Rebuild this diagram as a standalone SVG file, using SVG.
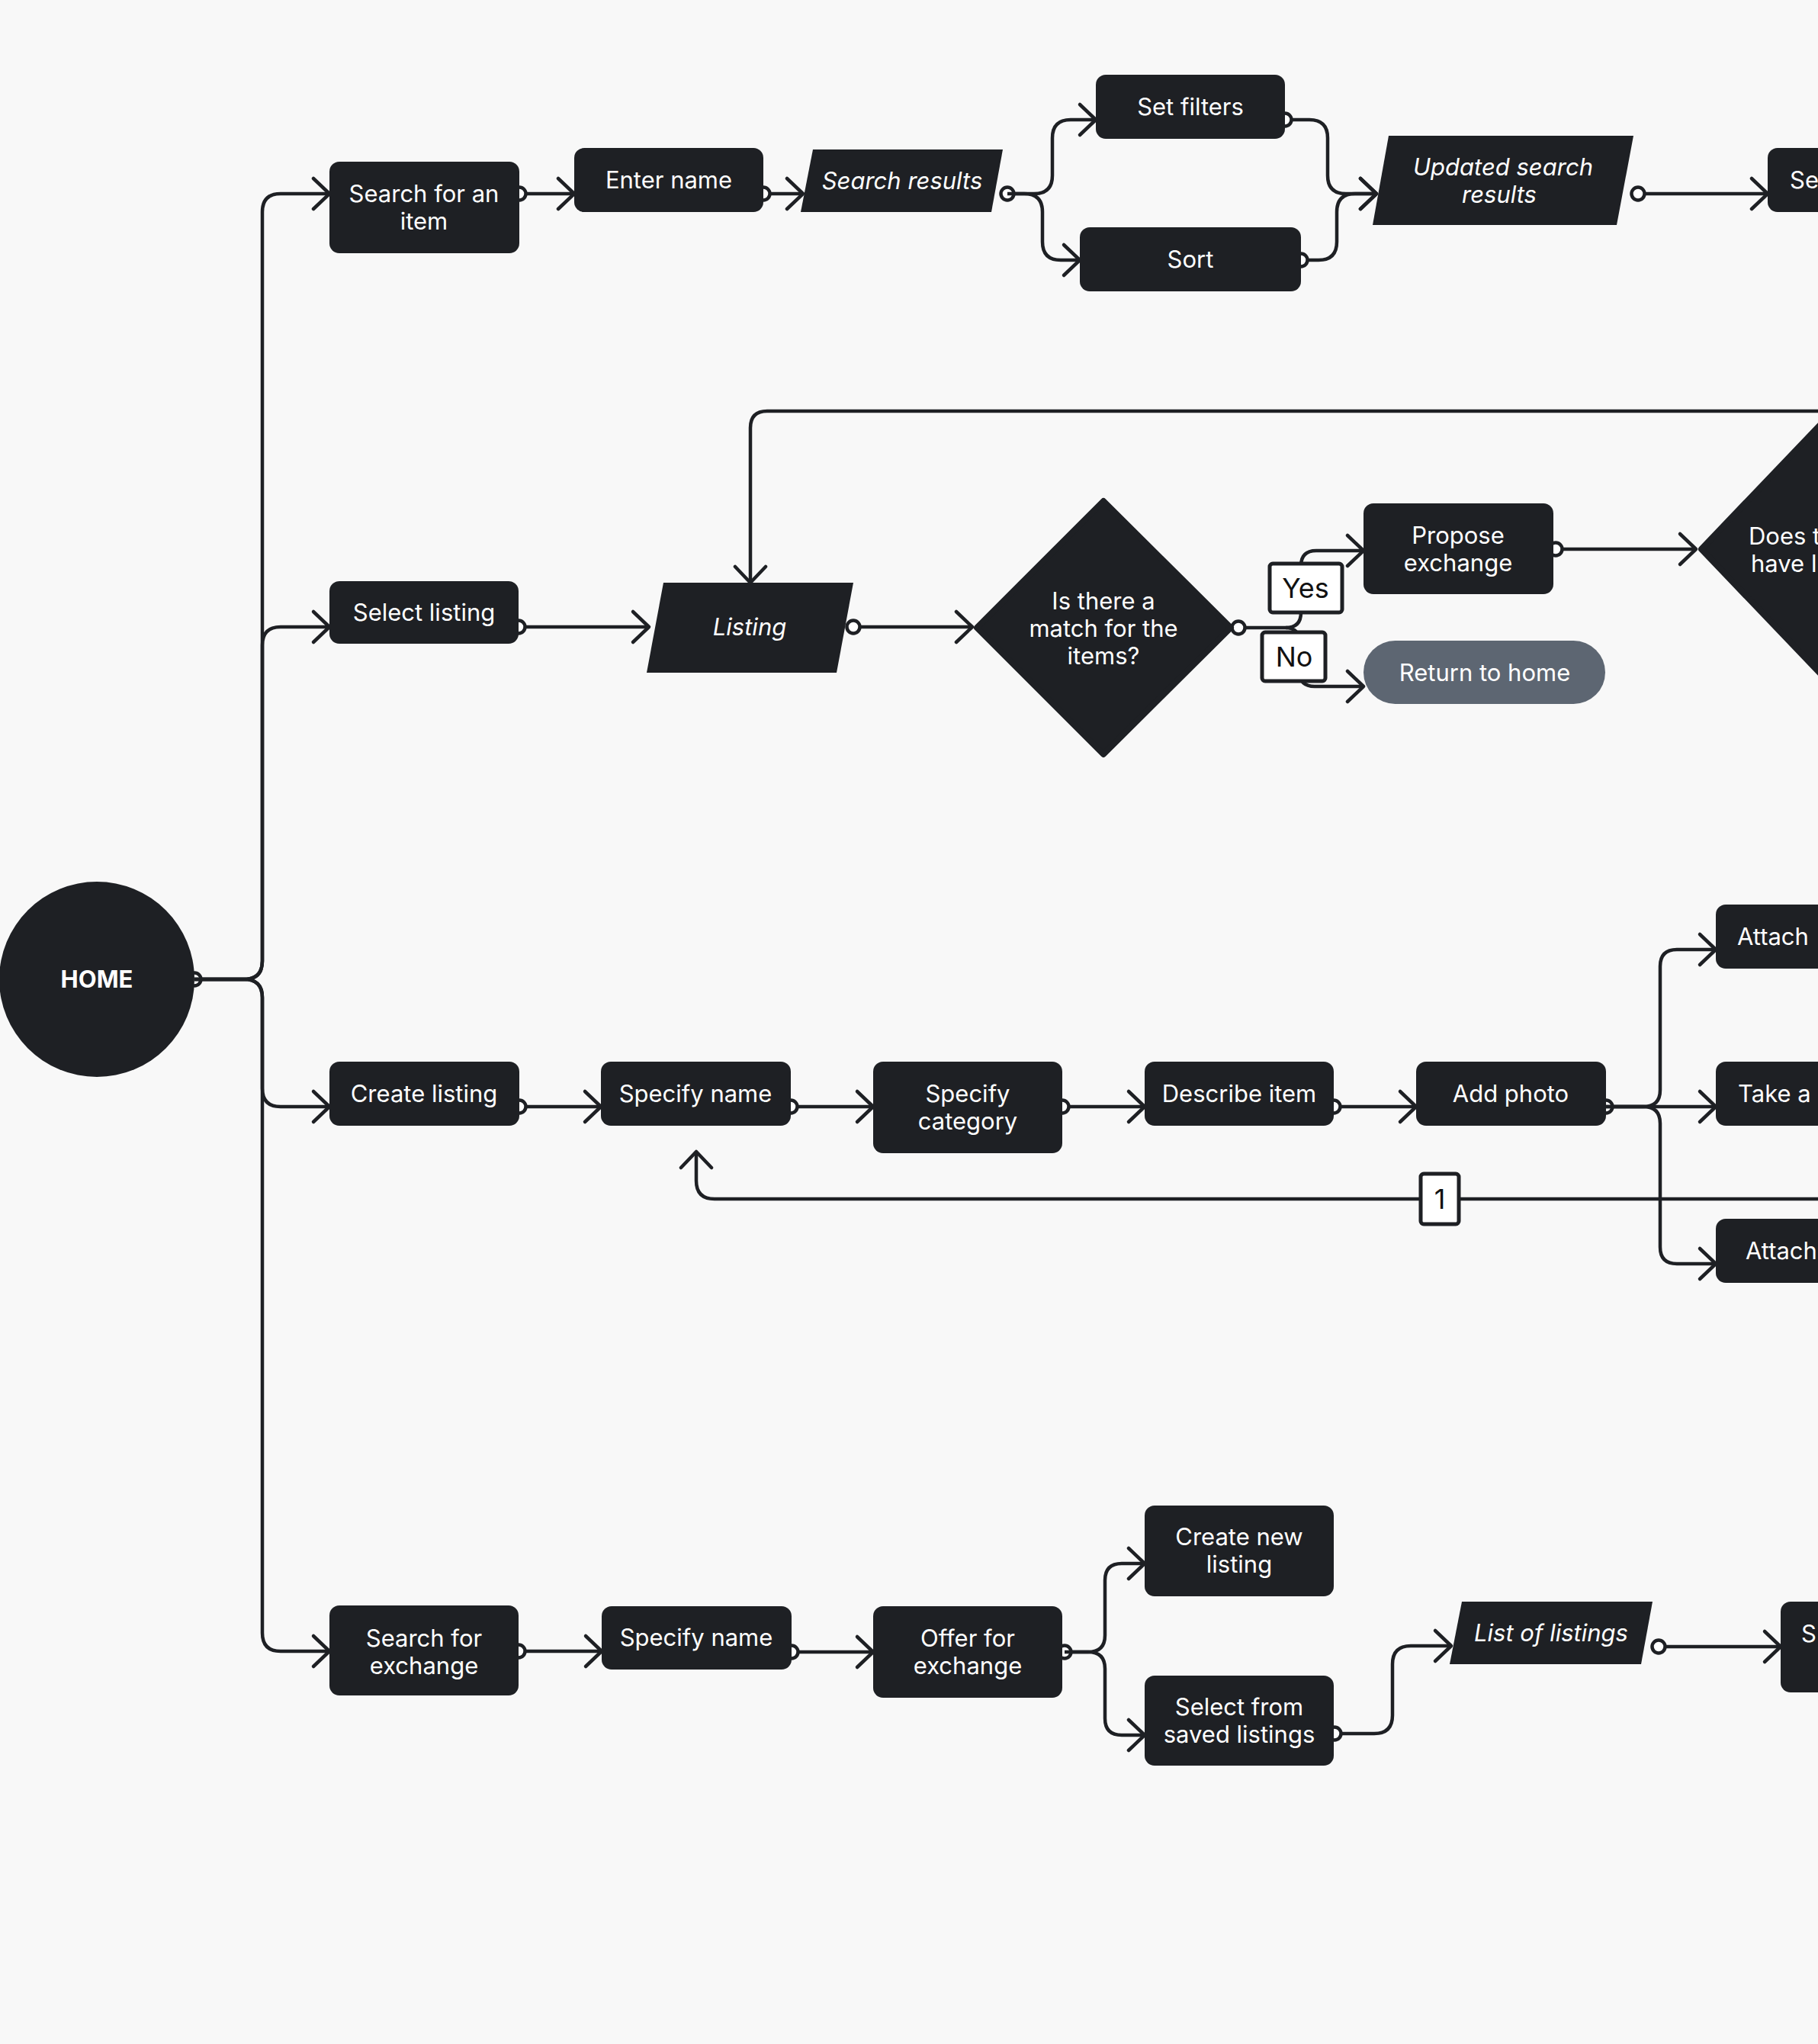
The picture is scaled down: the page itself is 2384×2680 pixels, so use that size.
<svg xmlns="http://www.w3.org/2000/svg" width="2384" height="2680" viewBox="0 0 2384 2680">
<style>
.bg{fill:#f8f8f8}
.n{fill:#1e2024}
.g{fill:#5d6672}
.t{font-family:Inter,"Noto Sans","Liberation Sans",sans-serif;font-size:31px;fill:#ffffff;text-anchor:middle}
.ts{text-anchor:start}
.it{font-style:italic}
.hb{font-weight:700}
.c{fill:none;stroke:#1e2024;stroke-width:4.5;stroke-linejoin:round}
.lb{fill:#ffffff;stroke:#1e2024;stroke-width:5}
.lt{font-family:Inter,"Noto Sans","Liberation Sans",sans-serif;font-size:36px;fill:#111111;text-anchor:middle}
.dm{fill:#1e2024;stroke:#1e2024;stroke-width:8;stroke-linejoin:round}
</style>
<defs>
<marker id="arr" markerUnits="userSpaceOnUse" viewBox="-30 -25 40 50" markerWidth="40" markerHeight="50" refX="0" refY="0" orient="auto" overflow="visible">
<path d="M-21,-20 L0,0 L-21,20" fill="none" stroke="#1e2024" stroke-width="4.5" stroke-linecap="round" stroke-linejoin="round"/>
</marker>
<marker id="dot" markerUnits="userSpaceOnUse" viewBox="-14 -14 28 28" markerWidth="28" markerHeight="28" refX="0" refY="0" overflow="visible">
<circle r="8.5" fill="#ffffff" stroke="#1e2024" stroke-width="4.5"/>
</marker>
</defs>
<rect class="bg" x="0" y="0" width="2384" height="2680"/>

<g id="connectors">
<path class="c" marker-start="url(#dot)" marker-end="url(#arr)" d="M255,1284 H320 Q344,1284 344,1260 V278 Q344,254 368,254 H432"/>
<path class="c" marker-end="url(#arr)" d="M255,1284 H320 Q344,1284 344,1260 V846 Q344,822 368,822 H432"/>
<path class="c" marker-end="url(#arr)" d="M255,1284 H320 Q344,1284 344,1308 V1427 Q344,1451 368,1451 H432"/>
<path class="c" marker-end="url(#arr)" d="M255,1284 H320 Q344,1284 344,1308 V2141 Q344,2165 368,2165 H432"/>

<path class="c" marker-start="url(#dot)" marker-end="url(#arr)" d="M681,254 H753"/>
<path class="c" marker-start="url(#dot)" marker-end="url(#arr)" d="M1001,254 H1053"/>
<path class="c" marker-start="url(#dot)" marker-end="url(#arr)" d="M1321,254 H1356 Q1380,254 1380,230 V181 Q1380,157 1404,157 H1437"/>
<path class="c" marker-end="url(#arr)" d="M1321,254 H1343 Q1367,254 1367,278 V317 Q1367,341 1391,341 H1416"/>
<path class="c" marker-start="url(#dot)" marker-end="url(#arr)" d="M1685,157 H1717 Q1741,157 1741,181 V230 Q1741,254 1765,254 H1805"/>
<path class="c" marker-start="url(#dot)" marker-end="url(#arr)" d="M1706,341 H1729 Q1753,341 1753,317 V278 Q1753,254 1777,254 H1805"/>
<path class="c" marker-start="url(#dot)" marker-end="url(#arr)" d="M2148,254 H2318"/>

<path class="c" marker-start="url(#dot)" marker-end="url(#arr)" d="M680,822 H851"/>
<path class="c" marker-end="url(#arr)" d="M2390,539 H1006 Q984,539 984,561 V764"/>
<path class="c" marker-start="url(#dot)" marker-end="url(#arr)" d="M1119,822 H1275"/>
<path class="c" marker-start="url(#dot)" marker-end="url(#arr)" d="M1624,823 H1686 Q1706,823 1706,803 V742 Q1706,722 1726,722 H1788"/>
<path class="c" marker-end="url(#arr)" d="M1686,823 Q1704,823 1704,843 V880 Q1704,900 1724,900 H1788"/>
<path class="c" marker-start="url(#dot)" marker-end="url(#arr)" d="M2040,720 H2224"/>

<path class="c" marker-start="url(#dot)" marker-end="url(#arr)" d="M681,1451 H788"/>
<path class="c" marker-start="url(#dot)" marker-end="url(#arr)" d="M1037,1451 H1145"/>
<path class="c" marker-start="url(#dot)" marker-end="url(#arr)" d="M1393,1451 H1501"/>
<path class="c" marker-start="url(#dot)" marker-end="url(#arr)" d="M1749,1451 H1857"/>
<path class="c" marker-start="url(#dot)" marker-end="url(#arr)" d="M2106,1451 H2155 Q2177,1451 2177,1429 V1267 Q2177,1245 2199,1245 H2250"/>
<path class="c" marker-end="url(#arr)" d="M2106,1451 H2250"/>
<path class="c" marker-end="url(#arr)" d="M2106,1451 H2155 Q2177,1451 2177,1473 V1635 Q2177,1657 2199,1657 H2250"/>
<path class="c" marker-end="url(#arr)" d="M2390,1572 H937 Q913,1572 913,1548 V1510"/>

<path class="c" marker-start="url(#dot)" marker-end="url(#arr)" d="M680,2165 H789"/>
<path class="c" marker-start="url(#dot)" marker-end="url(#arr)" d="M1038,2166 H1145"/>
<path class="c" marker-start="url(#dot)" marker-end="url(#arr)" d="M1396,2166 H1427 Q1449,2166 1449,2144 V2072 Q1449,2050 1471,2050 H1501"/>
<path class="c" marker-end="url(#arr)" d="M1396,2166 H1427 Q1449,2166 1449,2188 V2253 Q1449,2275 1471,2275 H1501"/>
<path class="c" marker-start="url(#dot)" marker-end="url(#arr)" d="M1750,2273 H1802 Q1826,2273 1826,2249 V2182 Q1826,2158 1850,2158 H1903"/>
<path class="c" marker-start="url(#dot)" marker-end="url(#arr)" d="M2175,2159 H2335"/>
</g>

<g id="home"><circle class="n" cx="127" cy="1284" r="128"/><text class="t hb" x="127" y="1295">HOME</text></g>

<g id="search-item"><rect class="n" x="432" y="212" width="249" height="120" rx="13"/><text class="t" x="556" y="265">Search for an</text><text class="t" x="556" y="301">item</text></g>
<g id="enter-name"><rect class="n" x="753" y="194" width="248" height="84" rx="13"/><text class="t" x="877" y="247">Enter name</text></g>
<g id="search-results"><polygon class="n" points="1066,196 1315,196 1300,278 1050,278"/><text class="t it" x="1183" y="248">Search results</text></g>
<g id="set-filters"><rect class="n" x="1437" y="98" width="248" height="84" rx="13"/><text class="t" x="1561" y="151">Set filters</text></g>
<g id="sort"><rect class="n" x="1416" y="298" width="290" height="84" rx="13"/><text class="t" x="1561" y="351">Sort</text></g>
<g id="updated-results"><polygon class="n" points="1821,178 2142,178 2120,295 1800,295"/><text class="t it" x="1971" y="230">Updated search</text><text class="t it" x="1966" y="266">results</text></g>
<g id="se-node"><rect class="n" x="2318" y="194" width="120" height="84" rx="13"/><text class="t ts" x="2347" y="247">Se</text></g>

<g id="select-listing"><rect class="n" x="432" y="762" width="248" height="82" rx="13"/><text class="t" x="556" y="814">Select listing</text></g>
<g id="listing"><polygon class="n" points="870,764 1119,764 1097,882 848,882"/><text class="t it" x="983" y="833">Listing</text></g>
<g id="match-decision"><polygon class="dm" points="1281,823 1447,657 1614,823 1447,989"/><text class="t" x="1447" y="799">Is there a</text><text class="t" x="1447" y="835">match for the</text><text class="t" x="1447" y="871">items?</text></g>
<g id="yes-label"><rect class="lb" x="1665" y="739" width="95" height="64" rx="4"/><text class="lt" x="1712" y="784">Yes</text></g>
<g id="no-label"><rect class="lb" x="1655" y="829" width="83" height="64" rx="4"/><text class="lt" x="1697" y="874">No</text></g>
<g id="propose"><rect class="n" x="1788" y="660" width="249" height="119" rx="13"/><text class="t" x="1912" y="713">Propose</text><text class="t" x="1912" y="749">exchange</text></g>
<g id="return-home"><rect class="g" x="1788" y="840" width="317" height="83" rx="41.5"/><text class="t" x="1947" y="893">Return to home</text></g>
<g id="does-decision"><polygon class="dm" points="2231,720 2427,515 2623,720 2427,925"/><text class="t ts" x="2293" y="714">Does t</text><text class="t ts" x="2296" y="750">have l</text></g>

<g id="create-listing"><rect class="n" x="432" y="1392" width="249" height="84" rx="13"/><text class="t" x="556" y="1445">Create listing</text></g>
<g id="specify-name-1"><rect class="n" x="788" y="1392" width="249" height="84" rx="13"/><text class="t" x="912" y="1445">Specify name</text></g>
<g id="specify-category"><rect class="n" x="1145" y="1392" width="248" height="120" rx="13"/><text class="t" x="1269" y="1445">Specify</text><text class="t" x="1269" y="1481">category</text></g>
<g id="describe-item"><rect class="n" x="1501" y="1392" width="248" height="84" rx="13"/><text class="t" x="1625" y="1445">Describe item</text></g>
<g id="add-photo"><rect class="n" x="1857" y="1392" width="249" height="84" rx="13"/><text class="t" x="1981" y="1445">Add photo</text></g>
<g id="attach-1"><rect class="n" x="2250" y="1186" width="200" height="84" rx="13"/><text class="t ts" x="2278" y="1239">Attach</text></g>
<g id="take-photo"><rect class="n" x="2250" y="1392" width="200" height="84" rx="13"/><text class="t ts" x="2279" y="1445">Take a</text></g>
<g id="attach-2"><rect class="n" x="2250" y="1598" width="200" height="84" rx="13"/><text class="t ts" x="2289" y="1651">Attach</text></g>
<g id="label-1"><rect class="lb" x="1863" y="1539" width="50" height="66" rx="4"/><text class="lt" x="1888" y="1585">1</text></g>

<g id="search-exchange"><rect class="n" x="432" y="2105" width="248" height="118" rx="13"/><text class="t" x="556" y="2159">Search for</text><text class="t" x="556" y="2195">exchange</text></g>
<g id="specify-name-2"><rect class="n" x="789" y="2106" width="249" height="83" rx="13"/><text class="t" x="913" y="2158">Specify name</text></g>
<g id="offer-exchange"><rect class="n" x="1145" y="2106" width="248" height="120" rx="13"/><text class="t" x="1269" y="2159">Offer for</text><text class="t" x="1269" y="2195">exchange</text></g>
<g id="create-new-listing"><rect class="n" x="1501" y="1974" width="248" height="119" rx="13"/><text class="t" x="1625" y="2026">Create new</text><text class="t" x="1625" y="2062">listing</text></g>
<g id="select-saved"><rect class="n" x="1501" y="2197" width="248" height="118" rx="13"/><text class="t" x="1625" y="2249">Select from</text><text class="t" x="1625" y="2285">saved listings</text></g>
<g id="list-of-listings"><polygon class="n" points="1917,2100 2167,2100 2152,2182 1901,2182"/><text class="t it" x="2034" y="2152">List of listings</text></g>
<g id="s-node"><rect class="n" x="2335" y="2100" width="120" height="119" rx="13"/><text class="t ts" x="2362" y="2153">S</text></g>
</svg>
